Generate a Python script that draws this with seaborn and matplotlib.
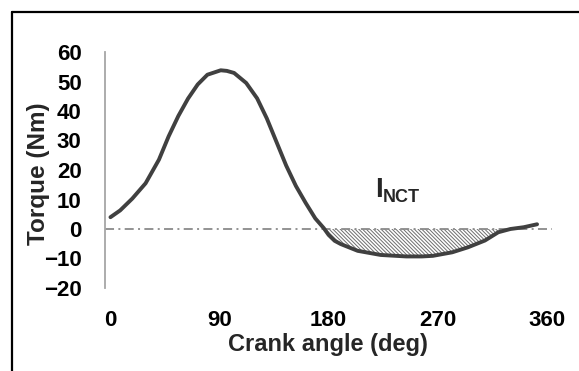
"""Crank torque profile with the negative-torque region hatched"""

import numpy as np
import matplotlib
matplotlib.use("Agg")
import matplotlib.pyplot as plt
import seaborn as sns

# crank angle (deg) and torque (Nm)
crank_angle = [0, 8, 18, 29, 40, 48, 56, 64, 72, 80, 91, 96, 102, 112, 121,
               129, 137, 145, 153, 161, 169, 176, 180, 185, 190, 204, 223,
               244, 257, 266, 282, 295, 309, 320, 330, 341, 352]
torque = [4.0, 6.3, 10.3, 15.5, 23.5, 31.4, 38.3, 44.2, 49.0, 52.3, 53.8,
          53.6, 52.9, 49.5, 44.3, 37.5, 29.5, 21.5, 14.6, 8.9, 3.6, 0.3,
          -2.0, -4.0, -5.1, -7.4, -8.8, -9.3, -9.3, -9.1, -7.9, -6.2, -3.9,
          -1.1, 0.0, 0.6, 1.6]

x_ticks = [0, 90, 180, 270, 360]
y_ticks = [-20, -10, 0, 10, 20, 30, 40, 50, 60]


def make_plot():
    sns.set_style("white")
    plt.rcParams["font.family"] = ["Liberation Sans", "DejaVu Sans"]
    plt.rcParams["font.weight"] = "bold"
    plt.rcParams["hatch.linewidth"] = 0.7

    fig = plt.figure(figsize=(5.79, 3.71), dpi=100)
    ax = fig.add_axes([105 / 579, 1 - 288 / 371,
                       (551.6 - 105) / 579, (288 - 52) / 371])

    ang = np.array(crank_angle)
    tq = np.array(torque)

    # hatched area where torque is negative
    ax.fill_between(ang, tq, 0, where=tq < 0, interpolate=True,
                    facecolor="none", edgecolor="#6e6e6e", hatch="\\" * 9,
                    linewidth=0)
    ax.axhline(0, color="#8a8a8a", lw=1.3, dashes=(5, 2.4, 1.1, 2.4))
    sns.lineplot(x=crank_angle, y=torque, ax=ax, color="#404040", lw=2.8,
                 sort=False, solid_joinstyle="round",
                 solid_capstyle="round")

    ax.set_xlim(-4.5, 364)
    ax.set_ylim(-20, 60)
    ax.set_xticks(x_ticks)
    ax.set_yticks(y_ticks)
    ax.tick_params(axis="both", length=0, labelsize=16, colors="black")
    ax.tick_params(axis="y", pad=16.8)
    ax.tick_params(axis="x", pad=15.8)
    for lab in ax.get_xticklabels() + ax.get_yticklabels():
        lab.set_fontweight("bold")

    for side in ["top", "right", "bottom"]:
        ax.spines[side].set_visible(False)
    ax.spines["left"].set_color("#a6a6a6")
    ax.spines["left"].set_linewidth(1.3)

    ax.set_xlabel("Crank angle (deg)", fontsize=17, fontweight="bold")
    ax.set_ylabel("Torque (Nm)", fontsize=17.5, fontweight="bold")
    ax.xaxis.set_label_coords(0.5, -0.19)
    ax.yaxis.set_label_coords(-0.123, 0.485)

    ax.text(218.2, 10.9, "I", fontsize=20, fontweight="bold")
    ax.text(225.0, 9.05, "NCT", fontsize=13, fontweight="bold")

    # frame around the figure (only top and left edges are visible)
    fig.add_artist(plt.Line2D([12 / 579, 1], [1 - 12 / 371, 1 - 12 / 371],
                              color="black", lw=1.6))
    fig.add_artist(plt.Line2D([12 / 579, 12 / 579], [0, 1 - 12 / 371],
                              color="black", lw=1.6))

    fig.savefig("out.png", dpi=100)


if __name__ == "__main__":
    make_plot()
